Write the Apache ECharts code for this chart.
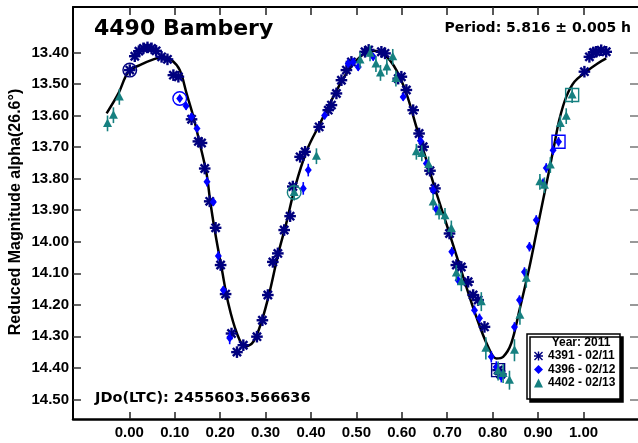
<!DOCTYPE html>
<html><head><meta charset="utf-8">
<script src="https://cdn.jsdelivr.net/npm/echarts@6/dist/echarts.min.js"></script>
<style>html,body{margin:0;padding:0;background:#fff}#c{width:638px;height:443px}</style>
</head><body><div id="c"></div>
<script>
// ---- data (phase, reduced magnitude, error, mark: 1=circled first point, 2=boxed last point)
const xTicks = [0, 0.1, 0.2, 0.3, 0.4, 0.5, 0.6, 0.7, 0.8, 0.9, 1.0];
const yTicks = [13.4, 13.5, 13.6, 13.7, 13.8, 13.9, 14.0, 14.1, 14.2, 14.3, 14.4, 14.5];
const seriesNames = ['4391 - 02/11', '4396 - 02/12', '4402 - 02/13'];
const titleText = '4490 Bambery';
const periodText = 'Period: 5.816 \u00b1 0.005 h';
const epochText = 'JDo(LTC): 2455603.566636';
const legendTitle = 'Year: 2011';
const yName = 'Reduced Magnitude alpha(26.6\u00b0)';

const fitCurve = [[-0.050,13.593],[-0.024,13.530],[-0.002,13.461],[0.023,13.440],[0.053,13.422],[0.075,13.414],[0.093,13.424],[0.111,13.456],[0.126,13.530],[0.141,13.604],[0.155,13.688],[0.170,13.784],[0.178,13.870],[0.188,13.963],[0.204,14.090],[0.218,14.196],[0.237,14.291],[0.255,14.333],[0.273,14.317],[0.292,14.249],[0.310,14.153],[0.328,14.037],[0.345,13.945],[0.365,13.826],[0.391,13.710],[0.420,13.625],[0.449,13.541],[0.478,13.467],[0.508,13.414],[0.537,13.395],[0.563,13.409],[0.588,13.456],[0.610,13.530],[0.632,13.636],[0.654,13.741],[0.676,13.845],[0.705,13.974],[0.735,14.111],[0.764,14.238],[0.790,14.333],[0.808,14.370],[0.823,14.365],[0.841,14.322],[0.859,14.217],[0.881,14.080],[0.896,13.974],[0.911,13.868],[0.925,13.770],[0.936,13.690],[0.947,13.612],[0.962,13.541],[0.980,13.493],[1.006,13.461],[1.031,13.435],[1.050,13.419]];

const s4391 = [[0.001,13.456,0.005,1],[0.012,13.412,0.005,0],[0.021,13.396,0.005,0],[0.031,13.387,0.005,0],[0.040,13.384,0.005,0],[0.049,13.387,0.005,0],[0.059,13.395,0.005,0],[0.071,13.414,0.005,0],[0.084,13.422,0.005,0],[0.097,13.472,0.005,0],[0.108,13.477,0.005,0],[0.137,13.612,0.005,0],[0.152,13.682,0.005,0],[0.159,13.687,0.005,0],[0.166,13.768,0.005,0],[0.177,13.872,0.005,0],[0.190,13.956,0.005,0],[0.201,14.074,0.005,0],[0.212,14.166,0.005,0],[0.225,14.291,0.005,0],[0.237,14.350,0.005,0],[0.251,14.328,0.005,0],[0.281,14.301,0.005,0],[0.293,14.249,0.005,0],[0.305,14.169,0.005,0],[0.316,14.064,0.005,0],[0.327,14.037,0.005,0],[0.341,13.963,0.005,0],[0.354,13.919,0.005,0],[0.360,13.825,0.006,0],[0.376,13.731,0.005,0],[0.387,13.715,0.005,0],[0.418,13.636,0.005,0],[0.438,13.583,0.005,0],[0.445,13.567,0.005,0],[0.456,13.530,0.005,0],[0.467,13.488,0.005,0],[0.478,13.456,0.005,0],[0.489,13.430,0.005,0],[0.519,13.398,0.005,0],[0.527,13.392,0.005,0],[0.555,13.398,0.005,0],[0.563,13.403,0.005,0],[0.592,13.483,0.005,0],[0.599,13.477,0.005,0],[0.610,13.519,0.005,0],[0.625,13.583,0.005,0],[0.638,13.657,0.005,0],[0.647,13.699,0.005,0],[0.662,13.775,0.005,0],[0.673,13.831,0.005,0],[0.705,13.974,0.005,0],[0.720,14.074,0.005,0],[0.731,14.080,0.005,0],[0.746,14.127,0.005,0],[0.757,14.169,0.005,0],[0.768,14.185,0.005,0],[0.782,14.270,0.005,0],[0.812,14.407,0.006,2],[0.818,14.420,0.006,0],[1.002,13.461,0.005,0],[1.013,13.414,0.005,0],[1.022,13.400,0.005,0],[1.028,13.398,0.005,0],[1.039,13.393,0.005,0],[1.050,13.398,0.005,0]];

const s4396 = [[0.111,13.546,0.012,1],[0.125,13.570,0.012,0],[0.137,13.604,0.012,0],[0.149,13.641,0.012,0],[0.171,13.810,0.015,0],[0.185,13.874,0.012,0],[0.196,14.045,0.015,0],[0.207,14.153,0.012,0],[0.221,14.305,0.020,0],[0.383,13.831,0.020,0],[0.394,13.773,0.020,0],[0.430,13.600,0.012,0],[0.482,13.435,0.012,0],[0.493,13.430,0.012,0],[0.504,13.446,0.012,0],[0.537,13.414,0.012,0],[0.603,13.541,0.012,0],[0.641,13.680,0.012,0],[0.654,13.752,0.012,0],[0.669,13.836,0.015,0],[0.676,13.897,0.015,0],[0.710,14.032,0.015,0],[0.724,14.122,0.015,0],[0.760,14.217,0.015,0],[0.771,14.243,0.015,0],[0.797,14.365,0.018,0],[0.808,14.397,0.018,0],[0.819,14.428,0.018,0],[0.848,14.270,0.015,0],[0.859,14.185,0.015,0],[0.870,14.096,0.015,0],[0.881,14.016,0.015,0],[0.896,13.931,0.015,0],[0.911,13.815,0.015,0],[0.918,13.766,0.015,0],[0.933,13.710,0.015,0],[0.945,13.683,0.015,2]];

const s4402 = [[-0.048,13.625,0.025,0],[-0.035,13.599,0.025,0],[-0.022,13.541,0.025,0],[0.363,13.844,0.025,1],[0.412,13.729,0.025,0],[0.508,13.424,0.025,0],[0.530,13.403,0.025,0],[0.543,13.437,0.025,0],[0.553,13.465,0.025,0],[0.567,13.446,0.025,0],[0.580,13.414,0.025,0],[0.587,13.483,0.025,0],[0.632,13.715,0.025,0],[0.644,13.720,0.025,0],[0.659,13.755,0.025,0],[0.669,13.874,0.025,0],[0.682,13.905,0.025,0],[0.695,13.918,0.025,0],[0.709,13.958,0.025,0],[0.720,14.099,0.025,0],[0.731,14.127,0.030,0],[0.775,14.190,0.030,0],[0.785,14.338,0.035,0],[0.812,14.410,0.030,0],[0.823,14.418,0.030,0],[0.837,14.439,0.030,0],[0.848,14.344,0.035,0],[0.860,14.233,0.030,0],[0.874,14.116,0.030,0],[0.904,13.810,0.025,0],[0.914,13.821,0.025,0],[0.927,13.757,0.025,0],[0.949,13.625,0.025,0],[0.962,13.602,0.025,0],[0.975,13.535,0.025,2]];

// ---- styling
const C_NAVY = '#00007f', C_BLUE = '#0000ff', C_TEAL = '#168080';
const FONT = '"Liberation Sans", Arial, sans-serif';
const FONT_T = '"DejaVu Sans", sans-serif';
const ASTERISK = 'path://M0,4.2H10V5.8H0Z M4.2,0H5.8V10H4.2Z M1.1,0L10,8.9L8.9,10L0,1.1Z M8.9,0L10,1.1L1.1,10L0,8.9Z';

function makeRender(kind, color) {
  return function (params, api) {
    const x = api.value(0), y = api.value(1), e = api.value(2), m = api.value(3);
    const p = api.coord([x, y]);
    const pa = api.coord([x, y - e]);
    const pb = api.coord([x, y + e]);
    const ch = [];
    ch.push({ type: 'line', shape: { x1: p[0], y1: pa[1], x2: p[0], y2: pb[1] }, style: { stroke: color, lineWidth: 1.6 } });
    if (kind === 'ast') {
      const r = 5.8;
      for (let k = 0; k < 4; k++) {
        const a = k * Math.PI / 4;
        const dx = r * Math.cos(a), dy = r * Math.sin(a);
        ch.push({ type: 'line', shape: { x1: p[0] - dx, y1: p[1] - dy, x2: p[0] + dx, y2: p[1] + dy }, style: { stroke: color, lineWidth: 2.4 } });
      }
    } else if (kind === 'dia') {
      ch.push({ type: 'polygon', shape: { points: [[p[0], p[1] - 4.5], [p[0] + 3.5, p[1]], [p[0], p[1] + 4.5], [p[0] - 3.5, p[1]]] }, style: { fill: color } });
    } else {
      ch.push({ type: 'polygon', shape: { points: [[p[0], p[1] - 5], [p[0] + 4.5, p[1] + 3.5], [p[0] - 4.5, p[1] + 3.5]] }, style: { fill: color } });
    }
    if (m === 1) {
      ch.push({ type: 'circle', shape: { cx: p[0], cy: p[1], r: 6.8 }, style: { fill: 'none', stroke: color, lineWidth: 1.4 } });
    } else if (m === 2) {
      ch.push({ type: 'rect', shape: { x: p[0] - 6.5, y: p[1] - 6.5, width: 13, height: 13 }, style: { fill: 'none', stroke: color, lineWidth: 1.4 } });
    }
    return { type: 'group', children: ch };
  };
}

const xMin = -0.124, xMax = 1.12, yMin = 13.256, yMax = 14.562;
const tickLbl = { fontFamily: FONT, fontWeight: 'bold', fontSize: 15, color: '#000' };

const chart = echarts.init(document.getElementById('c'), null, { renderer: 'canvas' });
chart.setOption({
  animation: false,
  backgroundColor: '#fff',
  grid: { left: 73, top: 7, width: 567, height: 412, containLabel: false },
  xAxis: [
    { type: 'value', position: 'bottom', min: xMin, max: xMax,
      axisLine: { show: true, onZero: false, lineStyle: { color: '#000', width: 2.5 } },
      axisTick: { show: true, inside: true, length: 7, customValues: xTicks, lineStyle: { color: '#222', width: 1.5 } },
      axisLabel: { show: true, margin: 6, customValues: xTicks, formatter: v => v.toFixed(2), ...tickLbl },
      splitLine: { show: false } },
    { type: 'value', position: 'top', min: xMin, max: xMax,
      axisLine: { show: true, onZero: false, lineStyle: { color: '#000', width: 2 } },
      axisTick: { show: true, inside: true, length: 8, customValues: xTicks, lineStyle: { color: '#222', width: 1.5 } },
      axisLabel: { show: false }, splitLine: { show: false } }
  ],
  yAxis: [
    { type: 'value', position: 'left', inverse: true, min: yMin, max: yMax,
      axisLine: { show: true, onZero: false, lineStyle: { color: '#000', width: 2 } },
      axisTick: { show: true, inside: true, length: 8, customValues: yTicks, lineStyle: { color: '#333', width: 1.5 } },
      axisLabel: { show: true, margin: 4, customValues: yTicks, formatter: v => v.toFixed(2), ...tickLbl },
      splitLine: { show: false } },
    { type: 'value', position: 'right', inverse: true, min: yMin, max: yMax,
      axisLine: { show: false, onZero: false },
      axisTick: { show: true, inside: true, length: 8, customValues: yTicks, lineStyle: { color: '#777', width: 1.5 } },
      axisLabel: { show: false }, splitLine: { show: false } }
  ],
  legend: {
    orient: 'vertical', left: 534, top: 350, padding: 0, itemGap: 1.5,
    itemWidth: 9, itemHeight: 9, z: 10,
    textStyle: { fontFamily: FONT, fontWeight: 'bold', fontSize: 12, color: '#000', lineHeight: 12 },
    data: [
      { name: seriesNames[0], icon: ASTERISK, itemStyle: { color: C_NAVY } },
      { name: seriesNames[1], icon: 'diamond', itemStyle: { color: C_BLUE } },
      { name: seriesNames[2], icon: 'triangle', itemStyle: { color: C_TEAL } }
    ]
  },
  graphic: [
    { type: 'rect', z: 8, shape: { x: 527, y: 334, width: 93, height: 65 },
      style: { fill: '#fff', stroke: '#000', lineWidth: 1.5, shadowColor: '#000', shadowOffsetX: 3, shadowOffsetY: 3, shadowBlur: 0 } },
    { type: 'text', z: 11, x: 581, y: 343, style: { text: legendTitle, font: 'bold 12px ' + FONT, fill: '#000', align: 'center', verticalAlign: 'middle' } },
    { type: 'text', z: 11, x: 94, y: 29, style: { text: titleText, font: 'bold 22px ' + FONT_T, fill: '#000', align: 'left', verticalAlign: 'middle' } },
    { type: 'text', z: 11, x: 631, y: 28.5, style: { text: periodText, font: 'bold 14px ' + FONT_T, fill: '#000', align: 'right', verticalAlign: 'middle' } },
    { type: 'text', z: 11, x: 95, y: 398, style: { text: epochText, font: 'bold 14.5px ' + FONT_T, fill: '#000', align: 'left', verticalAlign: 'middle' } },
    { type: 'text', z: 11, x: 16, y: 212, rotation: Math.PI / 2, style: { text: yName, font: 'bold 16px ' + FONT, fill: '#000', align: 'center', verticalAlign: 'middle' } }
  ],
  series: [
    { type: 'line', name: 'fit', data: fitCurve, xAxisIndex: 0, yAxisIndex: 0, smooth: 0.35, showSymbol: false, symbol: 'none',
      lineStyle: { color: '#000', width: 2.5 }, z: 3, silent: true },
    { type: 'custom', name: seriesNames[0], data: s4391, xAxisIndex: 0, yAxisIndex: 0, renderItem: makeRender('ast', C_NAVY), itemStyle: { color: C_NAVY }, z: 4, encode: { x: 0, y: 1 } },
    { type: 'custom', name: seriesNames[1], data: s4396, xAxisIndex: 0, yAxisIndex: 0, renderItem: makeRender('dia', C_BLUE), itemStyle: { color: C_BLUE }, z: 5, encode: { x: 0, y: 1 } },
    { type: 'custom', name: seriesNames[2], data: s4402, xAxisIndex: 0, yAxisIndex: 0, renderItem: makeRender('tri', C_TEAL), itemStyle: { color: C_TEAL }, z: 6, encode: { x: 0, y: 1 } }
  ]
});
</script></body></html>
